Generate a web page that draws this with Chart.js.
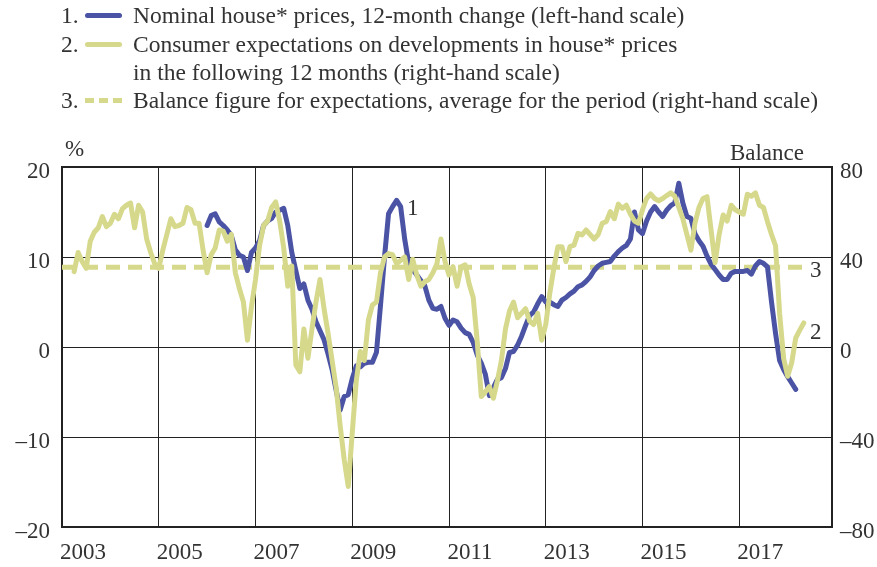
<!DOCTYPE html>
<html>

<head>
    <meta charset="utf-8">
    <script src="https://cdn.jsdelivr.net/npm/chart.js@4.4.1/dist/chart.umd.min.js"></script>
    <style>
        body { margin: 0; background: #fff; }
        #wrap { position: relative; width: 877px; height: 567px; font-family: "Liberation Serif", serif; color: #333; }
        .t { position: absolute; font-size: 23.5px; line-height: 28px; white-space: nowrap; }
        .sw { position: absolute; width: 37px; height: 5px; border-radius: 3px; }
        canvas { position: absolute; left: 0; top: 0; }
    </style>
</head>

<body>
    <div id="wrap">
        <canvas id="wykres" width="877" height="567"></canvas>
        <span class="t" style="left:61px; top:1px">1.</span>
        <span class="sw" style="left:85px; top:13px; background:#4b53a5"></span>
        <span class="t" style="left:133px; top:1px">Nominal house* prices, 12-month change (left-hand scale)</span>
        <span class="t" style="left:61px; top:30px">2.</span>
        <span class="sw" style="left:85px; top:42px; background:#d6d98c"></span>
        <span class="t" style="left:133px; top:30px">Consumer expectations on developments in house* prices</span>
        <span class="t" style="left:133px; top:58px">in the following 12 months (right-hand scale)</span>
        <span class="t" style="left:61px; top:86px">3.</span>
        <span class="sw" style="left:85px; top:98px; border-radius:0; background:repeating-linear-gradient(90deg, #d6d98c 0 9px, transparent 9px 14px)"></span>
        <span class="t" style="left:133px; top:86px">Balance figure for expectations, average for the period (right-hand scale)</span>
    </div>
    <script>
        // months counted from Jan 2003 (0)
        const startHouse = 36;      // Jan 2006
        const startExpect = 3;      // Apr 2003
        const yearTicks = [0, 24, 48, 72, 96, 120, 144, 168];
        const yearLabels = ["2003", "2005", "2007", "2009", "2011", "2013", "2015", "2017"];
        const averageBalance = 35.5;
        const averageSpan = [0, 185];

        const housePrices = [
            13.5, 14.6, 14.8, 13.9, 13.5, 13.0, 12.4, 10.8, 10.2, 10.0, 8.5, 10.5,
            11.0, 11.8, 13.5, 14.0, 14.3, 15.0, 15.2, 15.4, 13.5, 10.5, 8.5, 6.5,
            7.0, 5.2, 4.2, 2.8, 1.8, 0.8, -0.8, -2.5, -4.8, -7.0, -5.5, -5.3,
            -3.5, -2.1, -2.2, -1.8, -1.7, -1.7, -0.6, 4.6, 10.0, 14.8, 15.6, 16.3,
            15.6, 12.0, 9.3, 8.6, 8.0, 7.4, 6.8, 5.2, 4.3, 4.2, 4.5, 3.2,
            2.4, 3.0, 2.8, 2.1, 1.6, 1.4, 0.5, -0.9, -1.8, -3.0, -5.4, -4.5,
            -3.6, -3.4, -2.4, -0.6, -0.5, 0.2, 1.2, 2.4, 3.5, 3.9, 4.8, 5.6,
            5.0, 5.0, 4.7, 4.5, 5.2, 5.5, 5.9, 6.2, 6.7, 6.9, 7.3, 7.8,
            8.5, 9.0, 9.3, 9.4, 9.5, 10.1, 10.6, 11.0, 11.3, 12.0, 15.0, 13.0,
            12.6, 14.0, 15.0, 15.6, 15.0, 14.5, 15.2, 15.7, 16.0, 18.2, 16.0, 14.5,
            14.3, 12.6, 11.8, 11.2, 10.1, 9.2, 8.6, 8.0, 7.5, 7.5, 8.2, 8.4,
            8.4, 8.4, 8.5, 8.1, 9.0, 9.5, 9.3, 8.9, 5.0, 1.5, -1.5, -2.5,
            -3.3, -4.0, -4.7
        ];

        const expectations = [
            33.5, 42, 38, 35, 47, 51, 53, 58, 53.5,
            55, 59, 57, 61.5, 63, 64, 53, 63, 60, 48, 42, 37,
            35, 43, 50, 57, 53.5, 54, 55, 62, 61, 55, 55, 43,
            33, 41, 44, 52, 51.5, 47, 50, 33, 26, 20, 3, 18,
            30, 45, 54, 56, 62, 64.5, 56, 44, 27, 36, -8, -11,
            8, -5, 8, 20, 30, 17, 6, -6, -18, -35, -50, -62,
            -38, -15, -2, -6, 12, 18.7, 20, 33, 40, 41.5, 41, 37,
            38.5, 40, 30, 39, 32, 27, 29, 30, 33, 37, 48, 38,
            32, 35.7, 27, 35.7, 36.5, 28, 22, 2.4, -22, -20, -17.6, -22.8,
            -15, -6, 8, 16, 20, 13, 15, 17, 11.5, 10, 15, 3,
            10, 24, 35, 44.6, 44.6, 38, 44.6, 45.3, 50.5, 49.8, 52, 50,
            48, 50, 55, 55.7, 60.2, 57, 63.5, 61.6, 63, 59, 56, 55,
            61, 66, 68, 66, 65, 66, 67.3, 68.5, 67, 62, 57, 50,
            43, 55, 62, 66, 66.8, 52, 37.5, 50, 58.7, 56, 63, 61,
            60, 59, 67.9, 67, 68.5, 63, 62, 55.7, 50, 45, 15, -5,
            -13, -7, 4, 7.5, 10.7
        ];

        const blue = "#4b53a5";
        const yellow = "#d6d98c";
        const txt = "#333";
        const czcionka = { family: "Liberation Serif", size: 23 };

        const dane = {
            datasets: [
                {
                    label: "2",
                    data: expectations.map((v, i) => ({ x: startExpect + i, y: v })),
                    yAxisID: "y2",
                    borderColor: yellow,
                    borderWidth: 5,
                },
                {
                    label: "1",
                    data: housePrices.map((v, i) => ({ x: startHouse + i, y: v })),
                    yAxisID: "y",
                    borderColor: blue,
                    borderWidth: 5,
                },
                {
                    label: "3",
                    data: averageSpan.map(x => ({ x: x, y: averageBalance })),
                    yAxisID: "y2",
                    borderColor: yellow,
                    borderWidth: 5,
                    borderDash: [14, 8],
                    borderCapStyle: "butt",
                }
            ]
        };

        const minus = v => String(v).replace("-", "\u2013");

        const napisy = {
            id: "napisy",
            beforeDatasetsDraw(chart) {
                const c = chart.ctx, a = chart.chartArea;
                c.save();
                c.strokeStyle = "#222";
                c.lineWidth = 2;
                c.strokeRect(a.left, a.top, a.right - a.left, a.bottom - a.top);
                c.restore();
            },
            afterDraw(chart) {
                const c = chart.ctx, a = chart.chartArea;
                const x = chart.scales.x, y = chart.scales.y, y2 = chart.scales.y2;
                c.save();
                c.fillStyle = txt;
                c.font = "23px 'Liberation Serif'";
                c.textBaseline = "middle";
                c.textAlign = "left";
                c.fillText("%", a.left + 3, a.top - 17);
                c.textAlign = "right";
                c.fillText("Balance", a.right - 28, a.top - 13);
                c.textAlign = "center";
                c.fillText("1", x.getPixelForValue(87), y.getPixelForValue(15.3));
                c.fillText("3", x.getPixelForValue(187), y2.getPixelForValue(33.8));
                c.fillText("2", x.getPixelForValue(187), y2.getPixelForValue(6.2));
                c.restore();
            }
        };

        const ctx = document.getElementById("wykres").getContext("2d");
        const wykres = new Chart(ctx, {
            type: "line",
            data: dane,
            plugins: [napisy],
            options: {
                responsive: false,
                animation: false,
                layout: { padding: { top: 167 } },
                elements: {
                    point: { radius: 0 },
                    line: { tension: 0, borderJoinStyle: "round", borderCapStyle: "round" }
                },
                plugins: { legend: { display: false }, tooltip: { enabled: false } },
                scales: {
                    x: {
                        type: "linear",
                        min: 0,
                        max: 191,
                        border: { display: false },
                        grid: { color: "#222", lineWidth: 1, drawTicks: false },
                        afterBuildTicks: s => { s.ticks = yearTicks.map(v => ({ value: v })); },
                        afterFit: s => { s.height = 40; },
                        ticks: {
                            autoSkip: false,
                            maxRotation: 0,
                            color: txt,
                            font: czcionka,
                            padding: 12,
                            labelOffset: 21,
                            callback: v => yearLabels[yearTicks.indexOf(v)]
                        }
                    },
                    y: {
                        position: "left",
                        min: -20,
                        max: 20,
                        border: { display: false },
                        grid: { color: "#222", lineWidth: 1, drawTicks: false },
                        afterFit: s => { s.width = 62; },
                        ticks: { stepSize: 10, color: txt, font: czcionka, padding: 12, labelOffset: 5, callback: minus }
                    },
                    y2: {
                        position: "right",
                        min: -80,
                        max: 80,
                        border: { display: false },
                        grid: { display: false, drawTicks: false },
                        afterFit: s => { s.width = 45; },
                        ticks: { stepSize: 40, color: txt, font: czcionka, padding: 8, labelOffset: 5, callback: minus }
                    }
                }
            }
        });
    </script>
</body>

</html>
